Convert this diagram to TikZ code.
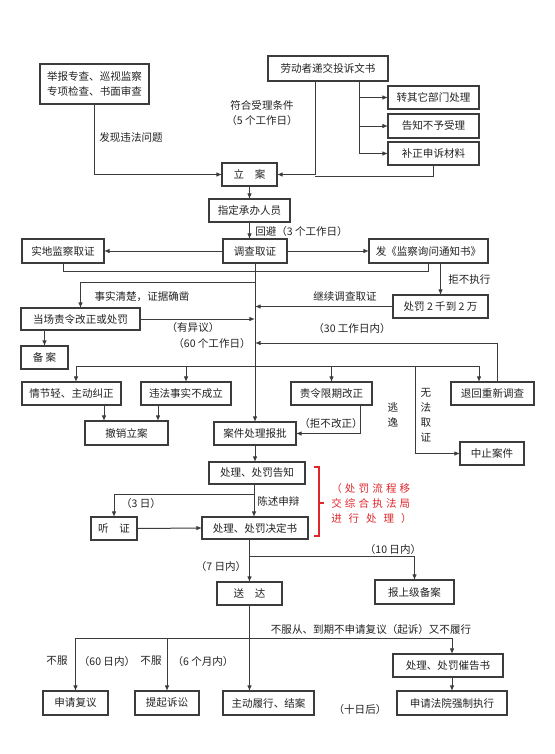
\documentclass[tikz,border=0pt]{standalone}
\usepackage{fontspec}
\setmainfont{Noto Sans CJK SC}
\usetikzlibrary{arrows.meta,calc}
\definecolor{ln}{HTML}{3C3C3C}
\definecolor{tx}{HTML}{222222}
\definecolor{rd}{HTML}{E0262A}
\newcommand\myfs{\fontsize{7.9pt}{11.25pt}\selectfont}
\tikzset{
 box/.style={draw=ln, line width=0.8pt, inner sep=0pt, outer sep=0pt, text=tx, font=\myfs, align=center},
 conn/.style={draw=ln, line width=0.75pt},
 arr/.style={conn, -{Latex[length=4.2pt,width=3.4pt]}},
 lbl/.style={text=tx, font=\myfs, inner sep=0pt, align=center},
 redlbl/.style={text=rd, font=\myfs, inner sep=0pt, anchor=west},
}
\newcommand\mybox[6]{\node[box, minimum width={(#4-#2)*0.75pt}, minimum height={(#5-#3)*0.75pt}] (#1) at ({(#2+#4)/2},{(#3+#5)/2}) {#6};}
\begin{document}
\begin{tikzpicture}[x=0.75pt,y=-0.75pt]
\fill[white] (0,0) rectangle (554,754);
\useasboundingbox (0,0) rectangle (554,754);

% boxes
\mybox{A}{40}{64}{149}{104}{举报专查、巡视监察\\专项检查、书面审查}
\mybox{B}{268}{56}{388}{81}{劳动者递交投诉文书}
\mybox{zq}{388}{86}{479}{109}{转其它部门处理}
\mybox{gz}{388}{114}{479}{138}{告知不予受理}
\mybox{bz}{388}{142}{479}{165}{补正申诉材料}
\mybox{lian}{222}{163}{277}{186}{立　案}
\mybox{zd}{209}{199}{290}{222}{指定承办人员}
\mybox{dc}{223}{239}{287}{263}{调查取证}
\mybox{sd}{22}{239}{104}{263}{实地监察取证}
\mybox{fa}{369}{239}{488}{263}{发《监察询问通知书》}
\mybox{dcz}{21}{308}{140}{330}{当场责令改正或处罚}
\mybox{ba}{21}{346}{68}{369}{备 案}
\mybox{fk}{393}{295}{488}{318}{处罚 2 千到 2 万}
\mybox{qj}{22}{382}{121}{405}{情节轻、主动纠正}
\mybox{wf}{141}{382}{231}{405}{违法事实不成立}
\mybox{zl}{291}{382}{372}{405}{责令限期改正}
\mybox{th}{451}{382}{534}{405}{退回重新调查}
\mybox{cx}{85}{421}{168}{445}{撤销立案}
\mybox{bp}{214}{422}{296}{445}{案件处理报批}
\mybox{zz}{460}{442}{524}{465}{中止案件}
\mybox{gzh}{209}{462}{305}{484}{处理、处罚告知}
\mybox{tz}{91}{517}{137}{540}{听　证}
\mybox{jd}{202}{517}{308}{539}{处理、处罚决定书}
\mybox{sd2}{217}{582}{282}{605}{送　达}
\mybox{bs}{375}{580}{454}{604}{报上级备案}
\mybox{cg}{393}{654}{503}{677}{处理、处罚催告书}
\mybox{fy}{43}{691}{108}{715}{申请复议}
\mybox{ts}{135}{691}{199}{715}{提起诉讼}
\mybox{zd2}{223}{691}{314}{715}{主动履行、结案}
\mybox{fq}{397}{691}{507}{715}{申请法院强制执行}

% helper coordinates
\coordinate (xB) at (315,176);
\coordinate (xS) at (359,0);
\coordinate (h1) at (0,271);
\coordinate (h2) at (0,282);
\coordinate (h3) at (0,343);
\coordinate (d1) at (76,366);
\coordinate (d4) at (479,366);
\coordinate (d5) at (415,366);
\coordinate (xq) at (104,0);
\coordinate (xw) at (158,0);
\coordinate (xz) at (360,0);
\coordinate (xm) at (254,0);
\coordinate (h5) at (0,494);
\coordinate (h6) at (0,556);
\coordinate (h7) at (0,638);
\coordinate (xt) at (497,0);

% top
\draw[arr] (A.south) |- (lian.west);
\draw[arr] (B.south -| xB) |- (lian.east);
\draw[conn] (bz.south) |- (xB);
\draw[arr] (B.south -| xS) |- (bz.west);
\draw[arr] (xS |- zq.west) -- (zq.west);
\draw[arr] (xS |- gz.west) -- (gz.west);
\draw[arr] (lian.south) -- (lian.south |- zd.north);
\draw[arr] (zd.south) -- (zd.south |- dc.north);
\draw[arr] (dc.west) -- (sd.east);
\draw[arr] (dc.east) -- (fa.west);
\draw[conn] (sd.south) |- (fa.south |- h1) -- (fa.south);

% trunk
\draw[arr] (dc.south) -- (bp.north);
\draw[arr] (dc.south |- h2) -| (dcz.north);
\draw[arr] (dcz.east) -- (dcz.east -| dc.south);
\draw[arr] (ba.north |- dcz.south) -- (ba.north);
\draw[arr] (fk.north |- fa.south) -- (fk.north);
\draw[arr] (fk.west) -- (fk.west -| dc.south);
\draw[arr] (th.north -| xt) |- (dc.south |- h3);

% distribution
\draw[conn] (d1) -- (d4);
\draw[arr] (d1) -- (d1 |- qj.north);
\draw[arr] (wf.north |- d1) -- (wf.north);
\draw[arr] (zl.north |- d1) -- (zl.north);
\draw[arr] (d4) -- (d4 |- th.north);
\draw[arr] (d5) |- (zz.west);
\draw[arr] (qj.south -| xq) -- (cx.north -| xq);
\draw[arr] (wf.south -| xw) -- (cx.north -| xw);
\draw[arr] (zl.south -| xz) |- (bp.east);

% lower
\draw[arr] (bp.south) -- (bp.south |- gzh.north);
\draw[arr] (gzh.south -| xm) -- (jd.north -| xm);
\draw[arr] (xm |- h5) -| (tz.north);
\draw[arr] (tz.east) -- (jd.west);
\draw[arr] (sd2.north |- jd.south) -- (sd2.north);
\draw[arr] (sd2.north |- h6) -| (bs.north);
\draw[arr] (sd2.south) -- (sd2.south |- zd2.north);
\draw[conn] (fy.north |- h7) -- (fq.north |- h7);
\draw[arr] (fy.north |- h7) -- (fy.north);
\draw[arr] (ts.north |- h7) -- (ts.north);
\draw[arr] (fq.north |- h7) -- (fq.north |- cg.north);
\draw[arr] (fq.north |- cg.south) -- (fq.north);

% red bracket
\draw[rd, line width=0.9pt] (314,467) -- (319,467) -- (319,536) -- (314,536);
\draw[rd, line width=0.9pt] (319,503) -- (324,503);
\node[redlbl] (r1) at (331,488) {\addfontfeatures{LetterSpace=30}（处罚流程移};
\node[redlbl] (r2) at (331,503) {\addfontfeatures{LetterSpace=30}交综合执法局};
\node[redlbl] (r3) at (331,518) {\addfontfeatures{LetterSpace=66}进行处理）};

% labels
\node[lbl] (l1) at (131,137) {发现违法问题};
\node[lbl] (l2) at (262,113) {符合受理条件\\（5 个工作日）};
\node[lbl, anchor=west] (l3) at (255,231) {回避（3 个工作日）};
\node[lbl] (l4) at (142,297) {事实清楚，证据确凿};
\node[lbl] (l5) at (193,327) {（有异议）};
\node[lbl] (l6) at (212,343) {（60 个工作日）};
\node[lbl, anchor=west] (l7) at (448,280) {拒不执行};
\node[lbl] (l8) at (345,296) {继续调查取证};
\node[lbl] (l9) at (352,328) {（30 工作日内）};
\node[lbl] (l10) at (331,423) {（拒不改正）};
\node[lbl] (l11) at (393,415) {逃\\逸};
\node[lbl] (l12) at (426,415) {无\\法\\取\\证};
\node[lbl, anchor=west] (l13) at (257,501) {陈述申辩};
\node[lbl] (l14) at (141,503) {（3 日）};
\node[lbl] (l15) at (221,566) {（7 日内）};
\node[lbl] (l16) at (393,549) {（10 日内）};
\node[lbl] (l17) at (371,629) {不服从、到期不申请复议（起诉）又不履行};
\node[lbl] (l18) at (57,661) {不服};
\node[lbl] (l19) at (107,661) {（60 日内）};
\node[lbl] (l20) at (151,661) {不服};
\node[lbl] (l21) at (203,661) {（6 个月内）};
\node[lbl] (l22) at (360,709) {（十日后）};
\end{tikzpicture}
\end{document}
